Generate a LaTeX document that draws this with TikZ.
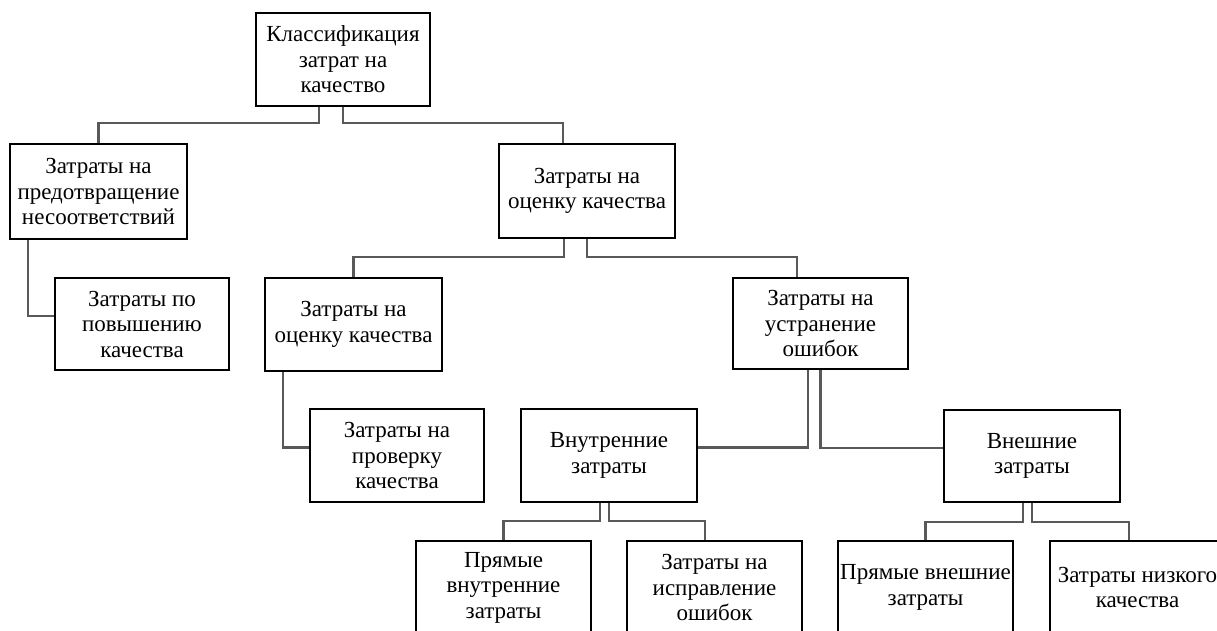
\documentclass[tikz,border=0pt]{standalone}
\usepackage{fontspec}
\setmainfont{Liberation Serif}
\newfontfamily\boxfont{Liberation Serif}
\begin{document}
\begin{tikzpicture}[x=1pt,y=-1pt,
  box/.style={draw=black,line width=1.5pt,fill=white,align=center,inner sep=0pt,
    minimum width=175pt,minimum height=93pt,
    font=\boxfont\fontsize{23}{25.5}\selectfont},
  conn/.style={draw=black!65,line width=2.2pt,line join=miter}]
\useasboundingbox (0,0) rectangle (1217,630);
\clip (0,0) rectangle (1217,630);
\fill[white] (0,0) rectangle (1217,630);
% nodes
\node[box,minimum width=174pt] (root) at (343,59.5) {Классификация\\затрат на\\качество};
\node[box,minimum width=177pt,minimum height=95pt] (A) at (98.5,191.5) {Затраты на\\предотвращение\\несоответствий};
\node[box,minimum width=176pt,minimum height=94pt] (B) at (587,191) {Затраты на\\оценку качества};
\node[box,minimum width=174pt,minimum height=92pt] (L) at (142,324) {Затраты по\\повышению\\качества};
\node[box,minimum width=177pt] (C) at (353.5,324.5) {Затраты на\\оценку качества};
\node[box,minimum height=91pt] (D) at (820.5,323.5) {Затраты на\\устранение\\ошибок};
\node[box,minimum width=174pt] (K) at (397,455.5) {Затраты на\\проверку\\качества};
\node[box,minimum width=176pt] (E) at (609,455.5) {Внутренние\\затраты};
\node[box,minimum width=176pt,minimum height=92pt] (F) at (1032,456) {Внешние\\затраты};
\node[box] (G) at (503.5,587.5) {Прямые\\внутренние\\затраты};
\node[box] (H) at (714.5,587.5) {Затраты на\\исправление\\ошибок};
\node[box] (I) at (925.5,587.5) {Прямые внешние\\затраты};
\node[box] (J) at (1137.5,587.5) {Затраты низкого\\качества};
% connectors
\draw[conn] ([xshift=-24pt]root.south) -- ++(0,16) -| (A.north);
\draw[conn] (root.south) -- ++(0,16) -| ([xshift=-24pt]B.north);
\draw[conn] ([xshift=-70.5pt]A.south) |- ([yshift=8pt]L.west);
\draw[conn] ([xshift=-23pt]B.south) -- ++(0,18) -| (C.north);
\draw[conn] (B.south) -- ++(0,18) -| ([xshift=-23.5pt]D.north);
\draw[conn] ([xshift=-70.5pt]C.south) |- ([yshift=8pt]K.west);
\draw[conn] ([xshift=-12.5pt]D.south) |- ([yshift=8pt]E.east);
\draw[conn] (D.south) |- ([yshift=8pt]F.west);
\draw[conn] ([xshift=-9pt]E.south) -- ++(0,18) -| (G.north);
\draw[conn] (E.south) -- ++(0,18) -| ([xshift=-9.5pt]H.north);
\draw[conn] ([xshift=-9pt]F.south) -- ++(0,19) -| (I.north);
\draw[conn] (F.south) -- ++(0,19) -| ([xshift=-8.5pt]J.north);
\end{tikzpicture}
\end{document}
